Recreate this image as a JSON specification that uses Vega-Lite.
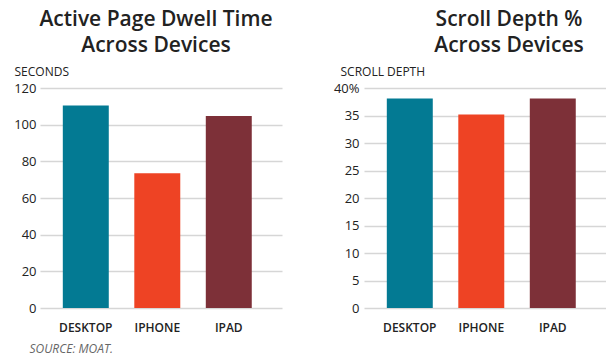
{
  "$schema": "https://vega.github.io/schema/vega-lite/v6.json",
  "padding": {"left": 13, "top": 9, "right": 0, "bottom": 6},
  "background": "#ffffff",
  "bounds": "flush",
  "spacing": 82,
  "config": {
    "font": "Open Sans",
    "view": {"stroke": null},
    "axis": {
      "domain": false,
      "ticks": false,
      "gridColor": "#d6d6d6",
      "gridWidth": 1.5,
      "labelFont": "Open Sans",
      "labelColor": "#222222",
      "labelFontSize": 13,
      "titleFont": "Open Sans",
      "titleColor": "#222222",
      "titleFontSize": 12,
      "titleFontWeight": "normal"
    },
    "title": {"font": "Open Sans", "fontSize": 21, "fontWeight": 600, "color": "#222222", "lineHeight": 26, "offset": 9}
  },
  "datasets": {
    "dwell": [
      {"device": "DESKTOP", "seconds": 110.5},
      {"device": "IPHONE", "seconds": 73.5},
      {"device": "IPAD", "seconds": 104.7}
    ],
    "scroll": [
      {"device": "DESKTOP", "depth": 38.1},
      {"device": "IPHONE", "depth": 35.2},
      {"device": "IPAD", "depth": 38.1}
    ]
  },
  "hconcat": [
    {
      "width": 242,
      "height": 220,
      "title": {"text": ["Active Page Dwell Time", "Across Devices"], "anchor": "middle", "frame": "group", "dx": -5},
      "data": {"name": "dwell"},
      "mark": {"type": "bar"},
      "encoding": {
        "x": {
          "field": "device", "type": "nominal",
          "sort": ["DESKTOP", "IPHONE", "IPAD"],
          "scale": {"paddingInner": 0.357, "paddingOuter": 0.371, "align": 0.43},
          "axis": {
            "grid": false, "labelAngle": 0, "labelFontWeight": 600, "labelFontSize": 12, "labelPadding": 14,
            "title": "SOURCE: MOAT.", "titleAnchor": "start", "titleAlign": "left", "titleX": -11, "titleY": 44,
            "titleBaseline": "alphabetic", "titleFontStyle": "italic", "titleColor": "#666666", "titleFontSize": 12
          }
        },
        "y": {
          "field": "seconds", "type": "quantitative",
          "scale": {"domain": [0, 120]},
          "axis": {
            "values": [0, 20, 40, 60, 80, 100, 120], "labelPadding": 4,
            "title": "SECONDS", "titleAngle": 0, "titleAlign": "left", "titleBaseline": "alphabetic",
            "titleX": -26, "titleY": -13
          }
        },
        "color": {
          "field": "device", "type": "nominal",
          "scale": {"domain": ["DESKTOP", "IPHONE", "IPAD"], "range": ["#037a93", "#ee4324", "#7d3038"]},
          "legend": null
        }
      }
    },
    {
      "width": 242,
      "height": 220,
      "title": {"text": ["Scroll Depth %", "Across Devices"], "anchor": "middle", "frame": "group", "dx": 24},
      "data": {"name": "scroll"},
      "mark": {"type": "bar"},
      "encoding": {
        "x": {
          "field": "device", "type": "nominal",
          "sort": ["DESKTOP", "IPHONE", "IPAD"],
          "scale": {"paddingInner": 0.357, "paddingOuter": 0.371, "align": 0.43},
          "axis": {"grid": false, "labelAngle": 0, "labelFontWeight": 600, "labelFontSize": 12, "labelPadding": 14, "title": null}
        },
        "y": {
          "field": "depth", "type": "quantitative",
          "scale": {"domain": [0, 40]},
          "axis": {
            "values": [0, 5, 10, 15, 20, 25, 30, 35, 40], "labelPadding": 5,
            "labelExpr": "datum.value == 40 ? '40%' : datum.label",
            "title": "SCROLL DEPTH", "titleAngle": 0, "titleAlign": "left", "titleBaseline": "alphabetic",
            "titleX": -24, "titleY": -13
          }
        },
        "color": {
          "field": "device", "type": "nominal",
          "scale": {"domain": ["DESKTOP", "IPHONE", "IPAD"], "range": ["#037a93", "#ee4324", "#7d3038"]},
          "legend": null
        }
      }
    }
  ]
}
